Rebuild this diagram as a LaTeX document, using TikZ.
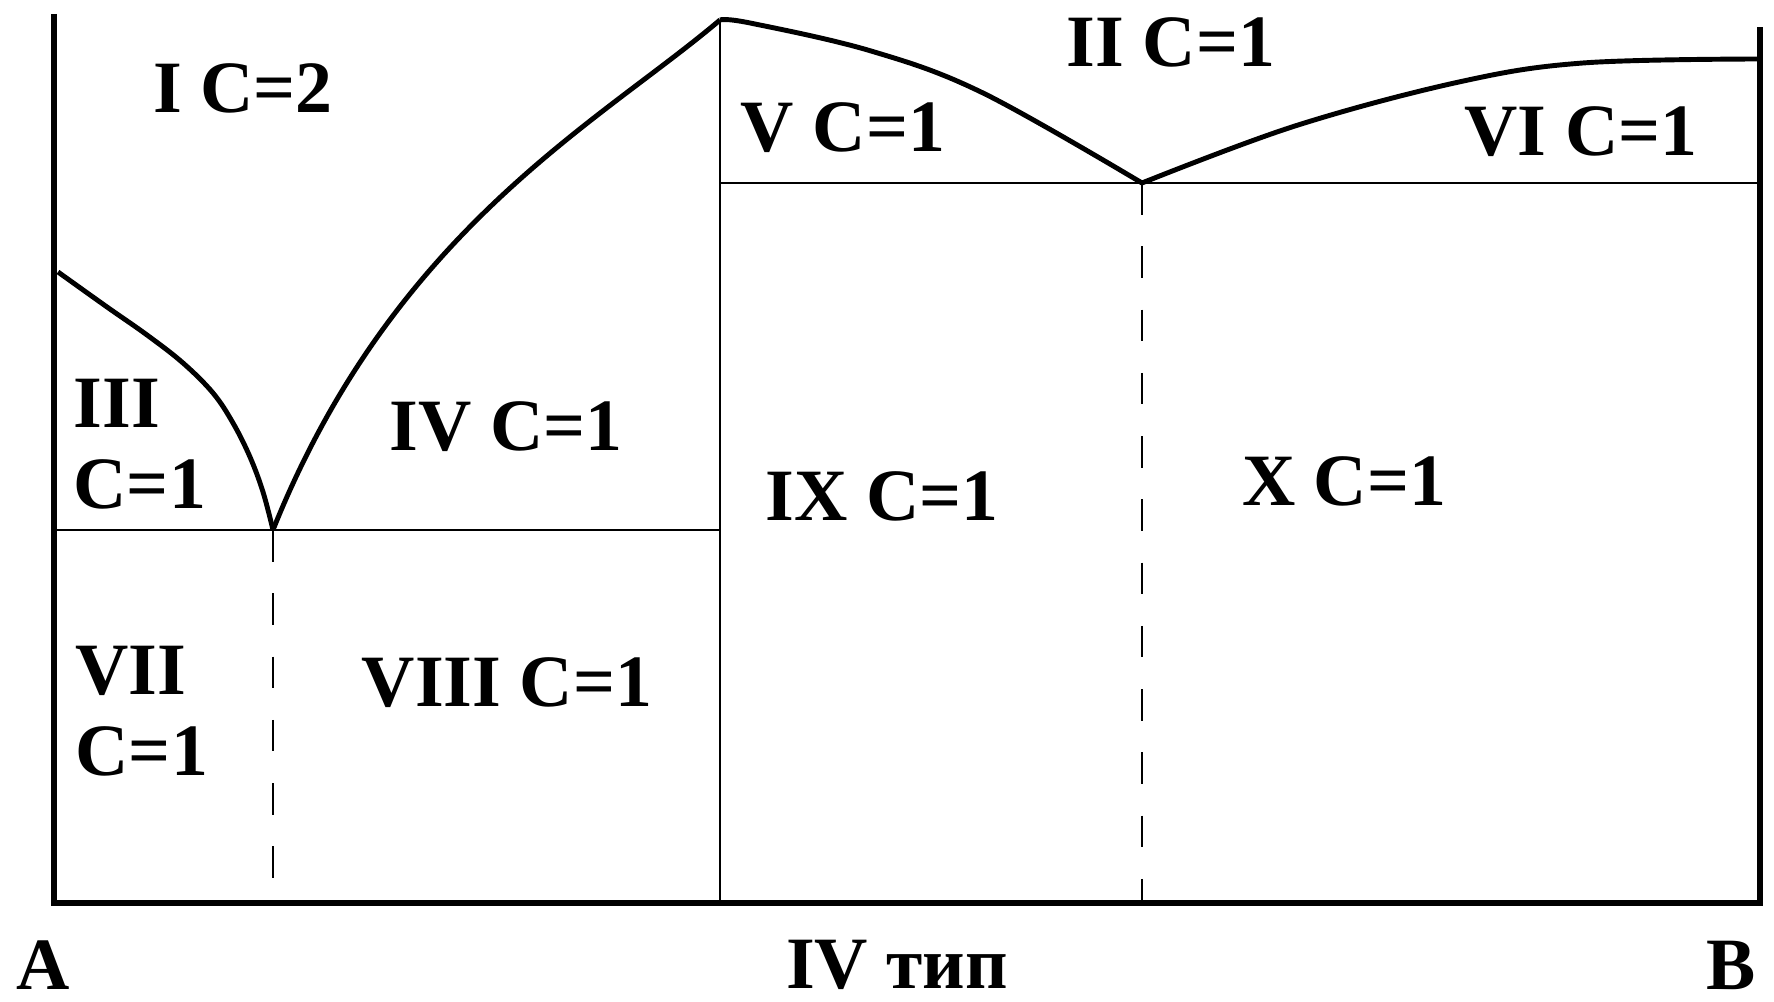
\documentclass[tikz,border=0pt]{standalone}
\usepackage{fontspec}
\setmainfont{Liberation Serif}
\usetikzlibrary{positioning}

\begin{document}
\begin{tikzpicture}[
  axisline/.style={line width=1.9pt},
  liquidus/.style={line width=1.4pt, line join=round},
  thinline/.style={line width=0.6pt},
  dashline/.style={line width=0.6pt, dash pattern=on 9pt off 9pt},
  region/.style={font=\bfseries\fontsize{21}{25}\selectfont, inner sep=0pt, align=left}]

\useasboundingbox (0,0) rectangle (17.74,10.02);

% Key points
\coordinate (A0) at (0.54,0.99);
\coordinate (Atop) at (0.54,9.88);
\coordinate (B0) at (17.60,0.99);
\coordinate (Btop) at (17.60,9.75);
\coordinate (E1) at (2.73,4.72);
\coordinate (P) at (7.20,9.82);
\coordinate (E2) at (11.42,8.19);
\coordinate (P0) at (7.20,0.99);
\coordinate (E1b) at (2.73,0.99);
\coordinate (E2b) at (11.42,0.99);
\coordinate (H1) at (0.54,4.72);
\coordinate (H2) at (7.20,4.72);
\coordinate (H3) at (7.20,8.19);
\coordinate (H4) at (17.60,8.19);

% Axes
\draw[axisline] (Atop) -- (A0) -- (B0) -- (Btop);

% Liquidus curves
\draw[liquidus] plot[smooth, tension=0.6] coordinates
  {(0.58,7.30) (1.07,6.95) (1.47,6.67) (1.83,6.39) (2.13,6.09) (2.33,5.79) (2.50,5.45) (2.63,5.10) (2.73,4.72)};
\draw[liquidus] (E1) .. controls (3.93,7.72) and (6.00,8.80) .. (P);
\draw[liquidus] plot[smooth, tension=0.6] coordinates
  {(7.20,9.82) (7.50,9.79) (8.71,9.51) (9.83,9.09) (11.42,8.19)};
\draw[liquidus] plot[smooth, tension=0.6] coordinates
  {(11.42,8.19) (12.95,8.76) (14.59,9.20) (15.83,9.39) (17.60,9.43)};

% Solidus and section lines
\draw[thinline] (H1) -- (H2);
\draw[thinline] (H3) -- (H4);
\draw[thinline] (P) -- (P0);
\draw[dashline] (E1) -- (E1b);
\draw[dashline] (E2) -- (E2b);

% Region labels
\node[region] (r1) at (2.43,9.14) {I C=2};
\node[region] (r2) at (11.71,9.60) {II C=1};
\node[region, anchor=west] (r3) at (0.73,5.58) {III\\[-2pt]C=1};
\node[region] (r4) at (5.06,5.75) {IV C=1};
\node[region] (r5) at (8.43,8.74) {V C=1};
\node[region] (r6) at (15.81,8.70) {VI C=1};
\node[region, anchor=west] (r7) at (0.75,2.91) {VII\\[-2pt]C=1};
\node[region] (r8) at (5.07,3.19) {VIII C=1};
\node[region] (r9) at (8.82,5.06) {IX C=1};
\node[region] (r10) at (13.44,5.21) {X C=1};

% Axis labels
\node[region] (la) at (0.43,0.37) {A};
\node[region] (lb) at (17.31,0.37) {B};
\node[region] (ltype) at (8.97,0.37) {IV тип};

\end{tikzpicture}
\end{document}
